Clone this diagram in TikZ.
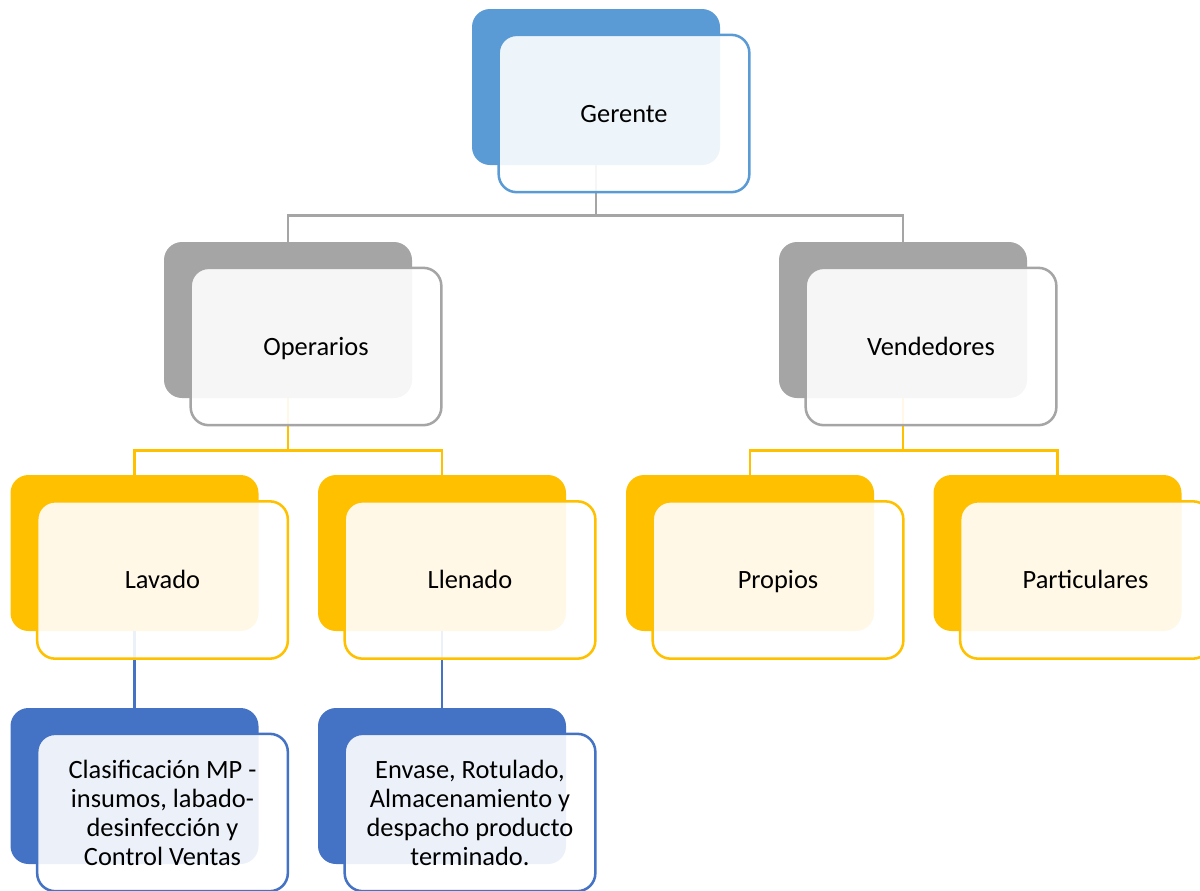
\documentclass[tikz,border=0pt]{standalone}
\usepackage{fontspec}
\setmainfont{Carlito}
\definecolor{cBlue}{HTML}{5B9BD5}
\definecolor{cGray}{HTML}{A5A5A5}
\definecolor{cGold}{HTML}{FFC000}
\definecolor{cDark}{HTML}{4472C4}
\tikzset{
  backbox/.style={rectangle, rounded corners=13.5pt, minimum width=186pt, minimum height=117pt, inner sep=0pt, fill=#1, draw=none},
  frontbox/.style={rectangle, rounded corners=13.5pt, minimum width=188pt, minimum height=118pt, inner sep=0pt, fill=white, fill opacity=0.9, text opacity=1, draw=#1, line width=1.9pt, align=center, font=\fontsize{19.8pt}{21.75pt}\selectfont},
  oneline/.style={text height=16pt, text depth=3.25pt},
  link/.style={draw=#1, line width=1.9pt},
}
\begin{document}
\begin{tikzpicture}[x=0.75pt, y=-0.75pt]
\useasboundingbox (0,0) rectangle (1200,890);
\clip (0,0) rectangle (1200,890);
% back boxes
\node[backbox=cBlue] (gB) at (596,87) {};
\node[backbox=cGray] (opB) at (288,320) {};
\node[backbox=cGray] (veB) at (903,320) {};
\node[backbox=cGold] (laB) at (134.5,553) {};
\node[backbox=cGold] (llB) at (442,553) {};
\node[backbox=cGold] (prB) at (750,553) {};
\node[backbox=cGold] (paB) at (1057.5,553) {};
\node[backbox=cDark] (clB) at (134.5,786) {};
\node[backbox=cDark] (enB) at (442,786) {};
% connectors
\draw[link=cGray] (gB.south) -- ++(0,50) coordinate (gJ);
\draw[link=cGray] (gJ) -| (opB.north);
\draw[link=cGray] (gJ) -| (veB.north);
\draw[link=cGold] (opB.south) -- ++(0,52) coordinate (oJ);
\draw[link=cGold] (oJ) -| (laB.north);
\draw[link=cGold] (oJ) -| (llB.north);
\draw[link=cGold] (veB.south) -- ++(0,52) coordinate (vJ);
\draw[link=cGold] (vJ) -| (prB.north);
\draw[link=cGold] (vJ) -| (paB.north);
\draw[link=cDark] (laB.south) -- (clB.north);
\draw[link=cDark] (llB.south) -- (enB.north);
% front boxes
\node[frontbox=cBlue, oneline] (gF) at (624,113.5) {Gerente};
\node[frontbox=cGray, oneline] (opF) at (316,346.5) {Operarios};
\node[frontbox=cGray, oneline] (veF) at (931,346.5) {Vendedores};
\node[frontbox=cGold, oneline] (laF) at (162.5,580) {Lavado};
\node[frontbox=cGold, oneline] (llF) at (470,580) {Llenado};
\node[frontbox=cGold, oneline] (prF) at (778,580) {Propios};
\node[frontbox=cGold, oneline] (paF) at (1085.5,580) {Particulares};
\node[frontbox=cDark] (clF) at (162.5,812.5) {Clasificación MP -\\insumos, labado-\\desinfección y\\Control Ventas};
\node[frontbox=cDark] (enF) at (470,812.5) {Envase, Rotulado,\\Almacenamiento y\\despacho producto\\terminado.};
\end{tikzpicture}
\end{document}
